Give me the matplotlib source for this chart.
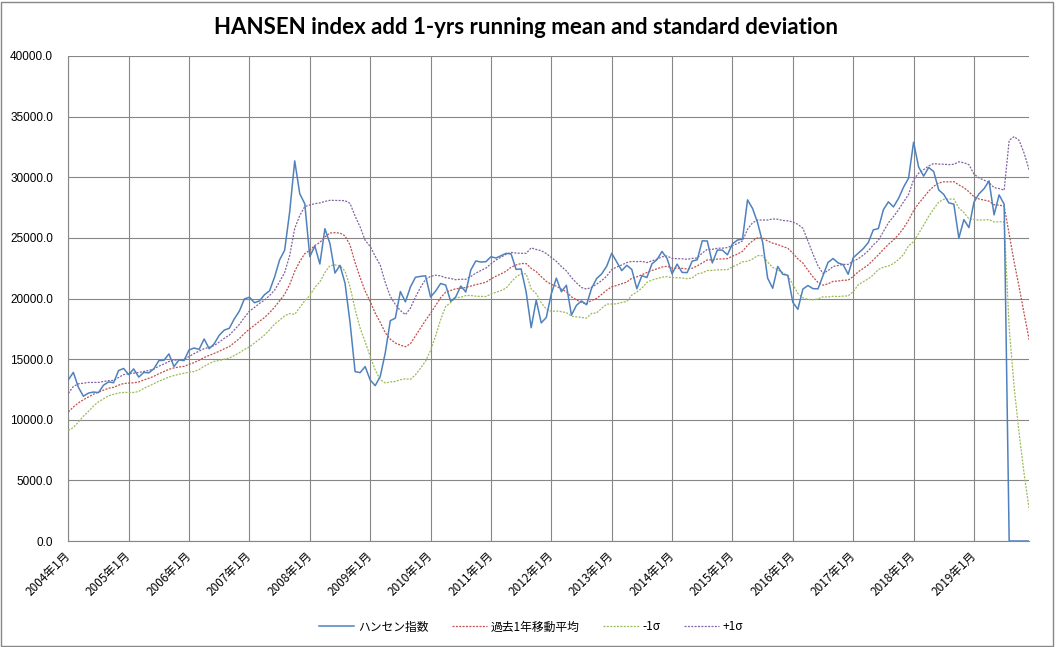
import matplotlib
matplotlib.use("Agg")
import matplotlib.pyplot as plt
import numpy as np
from matplotlib.patches import Rectangle

plt.rcParams['font.family'] = ['Noto Sans CJK JP', 'DejaVu Sans']

# month-end index values, 2004-01 .. 2019-12 (0 after 2019-07 as in the sheet)
hsi = [
    13289, 13908, 12682, 11942, 12198, 12286, 12239, 12850, 13120, 13054, 14060, 14230,
    13721, 14195, 13516, 13908, 13867, 14201, 14880, 14903, 15429, 14386, 14937, 14876,
    15753, 15918, 15805, 16661, 15857, 16267, 16971, 17392, 17543, 18324, 18960, 19965,
    20106, 19652, 19801, 20318, 20635, 21773, 23185, 23984, 27142, 31352, 28643, 27813,
    23456, 24332, 22849, 25755, 24533, 22102, 22731, 21262, 18016, 13969, 13888, 14387,
    13278, 12811, 13576, 15521, 18171, 18379, 20573, 19724, 20955, 21752, 21822, 21873,
    20122, 20609, 21239, 21108, 19765, 20129, 21030, 20537, 22359, 23096, 23008, 23035,
    23447, 23338, 23528, 23720, 23684, 22398, 22440, 20535, 17592, 19864, 17989, 18434,
    20390, 21680, 20556, 21094, 18630, 19441, 19797, 19483, 20840, 21642, 22030, 22657,
    23730, 23020, 22300, 22737, 22392, 20803, 21883, 21731, 22860, 23206, 23881, 23306,
    22035, 22837, 22151, 22134, 23082, 23191, 24757, 24742, 22933, 23998, 23987, 23605,
    24507, 24823, 24901, 28133, 27424, 26250, 24636, 21671, 20846, 22640, 21996, 21914,
    19683, 19112, 20777, 21067, 20815, 20794, 21891, 22977, 23297, 22935, 22790, 22001,
    23361, 23741, 24112, 24615, 25661, 25765, 27324, 27970, 27554, 28246, 29177, 29919,
    32887, 30845, 30093, 30808, 30469, 28955, 28583, 27889, 27789, 24980, 26507, 25846,
    27942, 28633, 29051, 29699, 26901, 28543, 27777, 0, 0, 0, 0, 0,
]

mean_1y = [
    10650, 11049, 11386, 11655, 11881, 12106, 12282, 12443, 12601, 12673, 12850, 12988,
    13024, 13048, 13118, 13281, 13421, 13580, 13800, 13971, 14164, 14275, 14348, 14402,
    14571, 14715, 14905, 15135, 15301, 15473, 15647, 15854, 16031, 16359, 16694, 17118,
    17481, 17792, 18125, 18430, 18828, 19287, 19805, 20354, 21154, 22239, 23046, 23700,
    23980, 24370, 24624, 25077, 25401, 25429, 25391, 25164, 24404, 22955, 21726, 20607,
    19759, 18798, 18026, 17173, 16643, 16332, 16153, 16024, 16269, 16918, 17579, 18203,
    18773, 19423, 20062, 20527, 20660, 20806, 20844, 20912, 21029, 21141, 21240, 21336,
    21614, 21841, 22032, 22249, 22576, 22765, 22883, 22882, 22485, 22216, 21798, 21414,
    21159, 21021, 20774, 20555, 20134, 19887, 19667, 19579, 19850, 19998, 20335, 20687,
    20965, 21077, 21222, 21359, 21672, 21786, 21960, 22147, 22315, 22446, 22600, 22654,
    22513, 22498, 22485, 22435, 22492, 22691, 22931, 23182, 23188, 23254, 23263, 23288,
    23494, 23659, 23888, 24388, 24750, 25005, 24995, 24739, 24565, 24452, 24286, 24145,
    23743, 23267, 22924, 22335, 21784, 21329, 21101, 21209, 21414, 21438, 21504, 21512,
    21818, 22204, 22482, 22777, 23181, 23596, 24048, 24464, 24819, 25262, 25794, 26454,
    27248, 27840, 28338, 28854, 29255, 29521, 29626, 29619, 29638, 29366, 29144, 28804,
    28392, 28208, 28121, 28029, 27731, 27697, 27630, 25306, 22990, 20908, 18699, 16546,
]

minus_1sd = [
    9123, 9357, 9809, 10296, 10686, 11132, 11484, 11726, 11982, 12100, 12210, 12250,
    12254, 12248, 12338, 12581, 12771, 12971, 13180, 13341, 13524, 13645, 13748, 13831,
    13930, 13975, 14145, 14405, 14631, 14823, 14887, 14994, 15079, 15309, 15524, 15802,
    16002, 16322, 16649, 16990, 17413, 17884, 18218, 18568, 18760, 18696, 19249, 19815,
    20246, 20920, 21363, 22147, 22706, 22769, 22697, 22255, 20966, 19112, 17553, 16417,
    15216, 14108, 13303, 13035, 13120, 13157, 13301, 13377, 13329, 13711, 14249, 14829,
    15716, 16925, 18256, 19337, 19668, 20062, 20101, 20241, 20247, 20187, 20170, 20162,
    20369, 20511, 20652, 20852, 21350, 21780, 22038, 22036, 20792, 20390, 19654, 19119,
    18936, 18971, 18914, 18835, 18541, 18487, 18427, 18383, 18773, 18812, 19195, 19536,
    19546, 19558, 19676, 19759, 20282, 20534, 20861, 21331, 21525, 21646, 21760, 21805,
    21716, 21713, 21695, 21635, 21678, 22038, 22112, 22310, 22318, 22364, 22373, 22378,
    22614, 22789, 23022, 23067, 23254, 23536, 23523, 23003, 22571, 22367, 22136, 21884,
    21174, 20417, 20054, 19925, 19894, 19965, 20139, 20123, 20184, 20158, 20194, 20214,
    20554, 21133, 21385, 21625, 21941, 22393, 22579, 22683, 22888, 23209, 23626, 24337,
    24698, 25348, 26052, 26778, 27379, 27959, 28176, 28199, 28207, 27463, 27094, 26570,
    26523, 26468, 26481, 26508, 26316, 26327, 26328, 17566, 12627, 8793, 5443, 2547,
]

plus_1sd = [
    12177, 12741, 12963, 13014, 13076, 13080, 13080, 13160, 13220, 13246, 13490, 13726,
    13794, 13848, 13898, 13981, 14071, 14189, 14420, 14601, 14804, 14905, 14948, 14973,
    15212, 15455, 15665, 15865, 15971, 16123, 16407, 16714, 16983, 17409, 17864, 18434,
    18960, 19262, 19601, 19870, 20243, 20690, 21392, 22140, 23548, 25782, 26843, 27585,
    27714, 27820, 27885, 28007, 28096, 28089, 28085, 28073, 27842, 26798, 25899, 24797,
    24302, 23488, 22749, 21311, 20166, 19507, 19005, 18671, 19209, 20125, 20909, 21577,
    21830, 21921, 21868, 21717, 21652, 21550, 21587, 21583, 21811, 22095, 22310, 22510,
    22859, 23171, 23412, 23646, 23802, 23750, 23728, 23728, 24178, 24042, 23942, 23709,
    23382, 23071, 22634, 22275, 21727, 21287, 20907, 20775, 20927, 21184, 21475, 21838,
    22384, 22596, 22768, 22959, 23062, 23038, 23059, 22963, 23105, 23246, 23440, 23503,
    23310, 23283, 23275, 23235, 23306, 23344, 23750, 24054, 24058, 24144, 24153, 24198,
    24374, 24529, 24754, 25709, 26246, 26474, 26467, 26475, 26559, 26537, 26436, 26406,
    26312, 26117, 25794, 24745, 23674, 22693, 22063, 22295, 22644, 22718, 22814, 22810,
    23082, 23275, 23579, 23929, 24421, 24799, 25517, 26245, 26750, 27315, 27962, 28571,
    29798, 30332, 30624, 30930, 31131, 31083, 31076, 31039, 31069, 31269, 31194, 31038,
    30261, 29948, 29761, 29550, 29146, 29067, 28932, 33046, 33353, 33023, 31955, 30545,
]

years = list(range(2004, 2020))
tick_labels = [f'{y}年1月' for y in years]

title = 'HANSEN index add 1-yrs running mean and standard deviation'

W, H = 1057, 647
fig = plt.figure(figsize=(W / 100, H / 100), dpi=100)
ax = fig.add_axes([68.3 / W, (H - 541) / H, 961 / W, 485 / H])

months = np.arange(len(hsi))
dash = (0, (1.6, 1.1))
ax.plot(months, hsi, color='#4F81BD', lw=1.1, label='ハンセン指数', zorder=5)
ax.plot(months, mean_1y, color='#C0504D', lw=0.9, ls=dash, label='過去1年移動平均', zorder=4)
ax.plot(months, minus_1sd, color='#9BBB59', lw=0.9, ls=dash, label='-1σ', zorder=3)
ax.plot(months, plus_1sd, color='#8064A2', lw=0.9, ls=dash, label='+1σ', zorder=3)

ax.set_xlim(0, len(hsi) - 1)
ax.set_ylim(0, 40000)
yt = np.arange(0, 40001, 5000)
ax.set_yticks(yt)
ax.set_yticklabels([f'{v:.1f}' for v in yt], family=['Liberation Sans', 'DejaVu Sans'], fontsize=8.5)
ax.set_xticks([(y - years[0]) * 12 for y in years])
ax.set_xticklabels(tick_labels, rotation=45, ha='right', va='center',
                   rotation_mode='anchor', fontsize=8.5)

ax.grid(True, color='#868686', lw=0.8)
ax.set_axisbelow(True)
for s in ['top', 'right']:
    ax.spines[s].set_visible(False)
for s in ['left', 'bottom']:
    ax.spines[s].set_color('#868686')
    ax.spines[s].set_linewidth(0.8)
ax.tick_params(axis='y', length=0, pad=11)
ax.tick_params(axis='x', length=0, pad=9)

fig.text(526.5 / W, 1 - 27 / H, title, ha='center', va='center', fontsize=16,
         fontweight='bold', family=['Lato', 'DejaVu Sans'])

fig.legend(loc='center', bbox_to_anchor=(531 / W, 1 - 627 / H), ncol=4, frameon=False,
           fontsize=8.5, handlelength=3.0, columnspacing=2.0, handletextpad=0.3)

fig.add_artist(Rectangle((0.5 / W, 1.5 / H), 1052.5 / W, 644 / H, transform=fig.transFigure,
                         fill=False, ec='#868686', lw=1.0))

fig.savefig('out.png', dpi=100, facecolor='white')
